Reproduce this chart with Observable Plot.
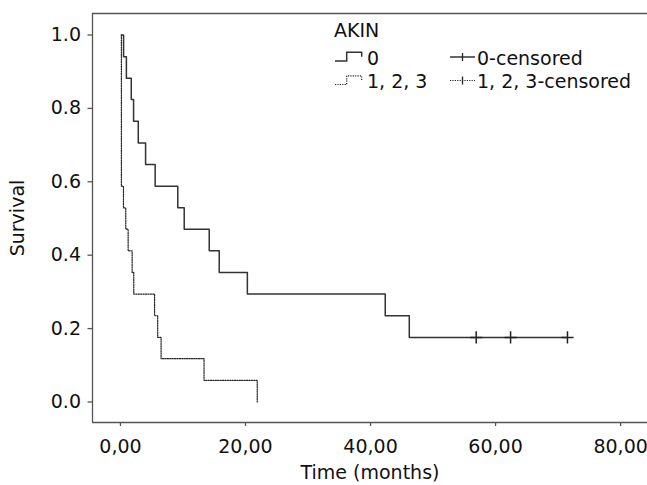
<!DOCTYPE html>
<html>
<head>
<meta charset="utf-8">
<script src="https://cdn.jsdelivr.net/npm/d3@7"></script>
<script src="https://cdn.jsdelivr.net/npm/@observablehq/plot@0.6"></script>
<style>
  html, body { margin: 0; padding: 0; background: #fff; }
  #wrap { position: relative; width: 647px; height: 485px; }
  #wrap svg { display: block; }
  #legend { position: absolute; left: 0; top: 0; pointer-events: none; }
</style>
</head>
<body>
<div id="wrap"></div>
<script>
// ---- data ----
// AKIN = 0 : step points (time in months, survival)
const akin0Time = [0.15, 0.5, 0.95, 1.73, 2.1, 2.85, 4.02, 5.55, 9.17, 10.2, 14.2, 15.8, 20.3, 42.35, 46.2, 71.5];
const akin0Surv = [1.0, 0.941, 0.882, 0.824, 0.765, 0.706, 0.647, 0.588, 0.529, 0.471, 0.412, 0.353, 0.294, 0.235, 0.176, 0.176];
// AKIN = 0 censored observations
const akin0CensTime = [56.9, 62.4, 71.5];
const akin0CensSurv = [0.176, 0.176, 0.176];
// AKIN = 1, 2, 3 : step points
const akin123Time = [0.15, 0.15, 0.48, 0.85, 1.23, 1.87, 2.13, 5.46, 5.96, 6.5, 13.37, 21.88];
const akin123Surv = [1.0, 0.588, 0.529, 0.471, 0.412, 0.353, 0.294, 0.235, 0.176, 0.118, 0.059, 0.0];

const xTicks = [0, 20, 40, 60, 80];
const yTicks = [0.0, 0.2, 0.4, 0.6, 0.8, 1.0];
const xTitle = "Time (months)";
const yTitle = "Survival";
const legendTitle = "AKIN";
const groupLabels = ["0", "1, 2, 3"];
const censLabels = ["0-censored", "1, 2, 3-censored"];

// ---- tables built from the arrays ----
const g0 = akin0Time.map((t, i) => ({t, s: akin0Surv[i]}));
const g123 = akin123Time.map((t, i) => ({t, s: akin123Surv[i]}));
const c0 = akin0CensTime.map((t, i) => ({t, s: akin0CensSurv[i]}));

const xDomain = [-4.47, 84.3];
const yDomain = [-0.0559, 1.0586];
const FONT = "DejaVu Sans";
const axisColor = "#555";

const fmtX = d => d3.format(".2f")(d).replace(".", ",");
const fmtY = d3.format(".1f");

const chart = Plot.plot({
  width: 647,
  height: 485,
  marginLeft: 92,
  marginRight: 0,
  marginTop: 13,
  marginBottom: 63,
  style: {fontFamily: FONT, fontSize: "19px", color: "#111", background: "#fff"},
  x: {domain: xDomain, axis: null},
  y: {domain: yDomain, axis: null},
  marks: [
    Plot.ruleY([yDomain[1]], {stroke: axisColor, strokeWidth: 1.3}),
    Plot.ruleY([yDomain[0]], {stroke: axisColor, strokeWidth: 1.3}),
    Plot.ruleX([xDomain[0]], {stroke: axisColor, strokeWidth: 1.3}),
    Plot.axisX({
      ticks: xTicks, tickFormat: fmtX, tickSize: 4, tickPadding: 13,
      stroke: axisColor, strokeWidth: 1.3, fill: "#111",
      label: xTitle, labelAnchor: "center", labelArrow: false, labelOffset: 56
    }),
    Plot.axisY({
      ticks: yTicks, tickFormat: fmtY, tickSize: 4.5, tickPadding: 7,
      stroke: axisColor, strokeWidth: 1.3, fill: "#111",
      label: yTitle, labelAnchor: "center", labelArrow: false, labelOffset: 82
    }),
    Plot.line(g123, {x: "t", y: "s", curve: "step-after", stroke: "#222", strokeWidth: 1.2, strokeDasharray: "1.2,1.2"}),
    Plot.line(g0, {x: "t", y: "s", curve: "step-after", stroke: "#333", strokeWidth: 1.5}),
    Plot.dot(c0, {x: "t", y: "s", symbol: "plus", r: 4, stroke: "#222", strokeWidth: 1.5})
  ]
});

const wrap = document.getElementById("wrap");
wrap.appendChild(chart);

// ---- legend overlay ----
const lg = d3.select(wrap).append("svg")
  .attr("id", "legend").attr("width", 647).attr("height", 485)
  .style("font-family", FONT).style("font-size", "19px").attr("fill", "#111");

lg.append("text").attr("x", 334).attr("y", 37).text(legendTitle);

const rows = [
  {y: 0, dash: null, sw: 1.5, stroke: "#333"},
  {y: 23.5, dash: "1.2,1.2", sw: 1.2, stroke: "#222"}
];
rows.forEach((r, i) => {
  const lo = 61 + r.y, hi = 52.3 + r.y, mid = 56.7 + r.y;
  lg.append("polyline")
    .attr("points", `335,${lo} 346.7,${lo} 346.7,${hi} 361.7,${hi} 361.7,${mid}`)
    .attr("fill", "none").attr("stroke", r.stroke).attr("stroke-width", r.sw)
    .attr("stroke-dasharray", r.dash);
  lg.append("text").attr("x", 367).attr("y", 64.5 + r.y).text(groupLabels[i]);
  const cy = 57 + r.y, cx0 = 450, cx1 = 475, cx = (cx0 + cx1) / 2;
  lg.append("line").attr("x1", cx0).attr("x2", cx1).attr("y1", cy).attr("y2", cy)
    .attr("stroke", r.stroke).attr("stroke-width", r.sw).attr("stroke-dasharray", r.dash);
  lg.append("line").attr("x1", cx).attr("x2", cx).attr("y1", cy - 4).attr("y2", cy + 4)
    .attr("stroke", "#222").attr("stroke-width", 1.3);
  lg.append("text").attr("x", 477).attr("y", 64.5 + r.y).text(censLabels[i]);
});
</script>
</body>
</html>
